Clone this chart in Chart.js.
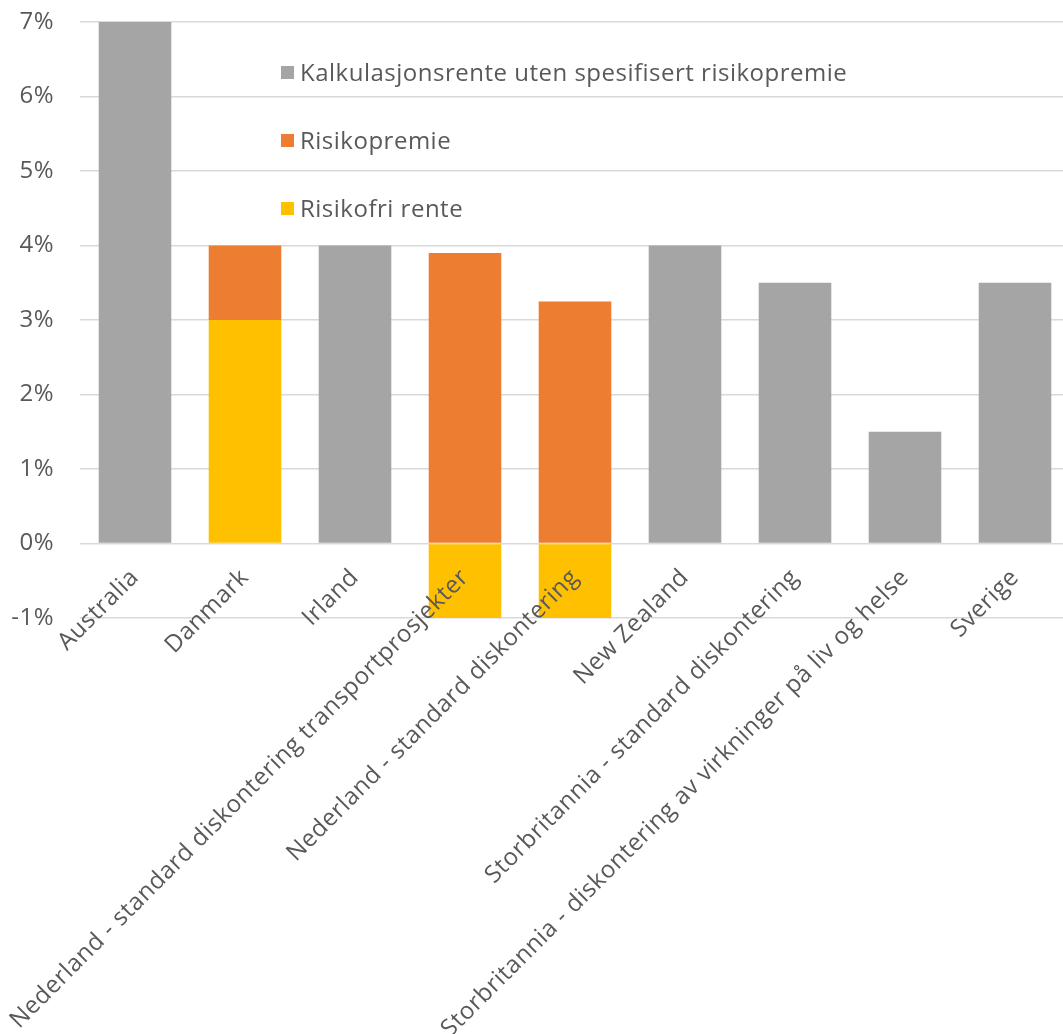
<!DOCTYPE html>
<html>
<head>
<meta charset="utf-8">
<script src="https://cdn.jsdelivr.net/npm/chart.js@4.4.0/dist/chart.umd.min.js"></script>
<style>
  html, body { margin: 0; padding: 0; background: #fff; overflow: hidden; }
  #wrap { position: relative; width: 1070px; height: 1034px; }
  #legend { position: absolute; left: 281px; top: 55px; font-family: 'Open Sans', sans-serif; font-size: 24px; letter-spacing: 0.5px; color: #595959; }
  #legend div { height: 68px; display: flex; align-items: flex-start; line-height: 34px; }
  #legend span.box { display: inline-block; width: 13px; height: 13px; margin: 11px 6px 0 0; }
</style>
</head>
<body>
<div id="wrap">
  <canvas id="chart"></canvas>
  <div id="legend"></div>
</div>
<script>
// categories and values (percent)
const categories = [
  'Australia',
  'Danmark',
  'Irland',
  'Nederland - standard diskontering transportprosjekter',
  'Nederland - standard diskontering',
  'New Zealand',
  'Storbritannia - standard diskontering',
  'Storbritannia - diskontering av virkninger på liv og helse',
  'Sverige'
];
const kalkulasjonsrente = [7, null, 4, null, null, 4, 3.5, 1.5, 3.5];
const risikopremie = [null, 1, null, 3.9, 3.25, null, null, null, null];
const risikofriRente = [null, 3, null, -1, -1, null, null, null, null];
const yTicks = [-1, 0, 1, 2, 3, 4, 5, 6, 7];

const GREY = '#A5A5A5', ORANGE = '#ED7D31', YELLOW = '#FFC000';
const TEXT = '#595959';
const FONT = "'Open Sans', sans-serif";

// legend (order as in the picture)
const legendItems = [
  ['Kalkulasjonsrente uten spesifisert risikopremie', GREY],
  ['Risikopremie', ORANGE],
  ['Risikofri rente', YELLOW]
];
document.getElementById('legend').innerHTML = legendItems
  .map(([t, c]) => `<div><span class="box" style="background:${c}"></span>${t}</div>`)
  .join('');

// slightly wider text, like the original
const spacing = {
  id: 'spacing',
  beforeLayout: c => { c.ctx.letterSpacing = '0.5px'; },
  beforeDraw: c => { c.ctx.letterSpacing = '0.5px'; }
};

const chart = new Chart(document.getElementById('chart'), {
  type: 'bar',
  data: {
    labels: categories,
    datasets: [
      { label: 'Risikofri rente', data: risikofriRente, backgroundColor: YELLOW },
      { label: 'Risikopremie', data: risikopremie, backgroundColor: ORANGE },
      { label: 'Kalkulasjonsrente uten spesifisert risikopremie', data: kalkulasjonsrente, backgroundColor: GREY }
    ]
  },
  plugins: [spacing],
  options: {
    responsive: true,
    maintainAspectRatio: false,
    animation: false,
    layout: { padding: { top: 22, bottom: 416, left: 0, right: 0 } },
    datasets: { bar: { categoryPercentage: 1, barPercentage: 0.66 } },
    plugins: { legend: { display: false }, tooltip: { enabled: false } },
    scales: {
      x: {
        stacked: true,
        position: { y: 0 },
        grid: { display: false },
        border: { display: false },
        afterFit: s => { s.paddingTop = 0; s.paddingBottom = 0; },
        ticks: {
          z: 1,
          color: TEXT,
          font: { family: FONT, size: 24 },
          minRotation: 45,
          maxRotation: 45,
          autoSkip: false,
          padding: 12
        }
      },
      y: {
        stacked: true,
        min: -1,
        max: 7,
        afterBuildTicks: s => { s.ticks = yTicks.map(v => ({ value: v })); },
        afterFit: s => { s.width = 80; s.paddingTop = 0; s.paddingBottom = 0; },
        grid: { color: '#D9D9D9', lineWidth: 1.5, drawTicks: false },
        border: { display: false },
        ticks: {
          color: TEXT,
          font: { family: FONT, size: 24 },
          padding: 26,
          callback: v => v + '%'
        }
      }
    }
  }
});
</script>
</body>
</html>
